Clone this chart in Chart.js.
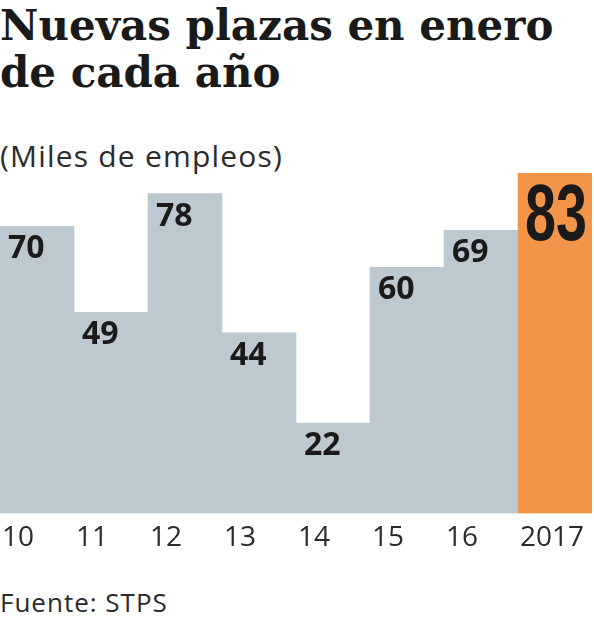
<!DOCTYPE html>
<html>
<head>
<meta charset="utf-8">
<script src="https://cdn.jsdelivr.net/npm/chart.js@4"></script>
<style>
  html, body { margin: 0; padding: 0; background: #fff; }
  body { width: 594px; height: 620px; position: relative; overflow: hidden; }
  #title {
    position: absolute; left: 0; top: 2px;
    font-family: "DejaVu Serif", serif;
    font-weight: bold; font-size: 42px; line-height: 47px; color: #1a1a1a;
    white-space: nowrap;
  }
  #subtitle {
    position: absolute; left: 0; top: 135px;
    font-family: "Open Sans", sans-serif; font-size: 30px; letter-spacing: 1.2px;
    color: #2b2b2b; white-space: nowrap;
  }
  #source {
    position: absolute; left: 0; top: 584px;
    font-family: "Open Sans", sans-serif; font-size: 26px; letter-spacing: 1px;
    color: #2b2b2b;
  }
  #wrap { position: absolute; left: 0; top: 160px; width: 594px; height: 403px; }
</style>
</head>
<body>
<div id="title">Nuevas plazas en enero<br>de cada año</div>
<div id="subtitle">(Miles de empleos)</div>
<div id="wrap"><canvas id="chart"></canvas></div>
<div id="source">Fuente: STPS</div>

<script>
// Data
const yearLabels = ['10', '11', '12', '13', '14', '15', '16', '2017'];
const jobs = [70, 49, 78, 44, 22, 60, 69, 83];

const grayBar = '#bdc9d0';
const orangeBar = '#f39548';

// Value labels drawn inside the top-left corner of each bar
const valueLabels = {
  id: 'valueLabels',
  afterDatasetsDraw(chart) {
    const ctx = chart.ctx;
    const meta = chart.getDatasetMeta(0);
    ctx.save();
    ctx.fillStyle = '#1a1a1a';
    ctx.textAlign = 'left';
    ctx.textBaseline = 'alphabetic';
    meta.data.forEach((bar, i) => {
      const left = bar.x - bar.width / 2;
      const text = String(jobs[i]);
      if (i === jobs.length - 1) {
        // big condensed number for the highlighted year
        ctx.font = 'bold 80px "Liberation Sans", sans-serif';
        const w = ctx.measureText(text).width;
        ctx.save();
        ctx.translate(left + 7, bar.y + 67);
        ctx.scale(62 / w, 1);
        ctx.fillText(text, 0, 0);
        ctx.restore();
      } else {
        ctx.font = 'bold 32px "Open Sans", sans-serif';
        ctx.fillText(text, left + 8, bar.y + 32);
      }
    });
    ctx.restore();
  }
};

new Chart(document.getElementById('chart'), {
  type: 'bar',
  data: {
    labels: yearLabels,
    datasets: [{
      data: jobs,
      backgroundColor: jobs.map((v, i) => i === jobs.length - 1 ? orangeBar : grayBar),
      borderWidth: 0,
      barPercentage: 1,
      categoryPercentage: 1
    }]
  },
  options: {
    responsive: true,
    maintainAspectRatio: false,
    animation: false,
    layout: { padding: { top: 13, right: 2, left: 0, bottom: 0 } },
    plugins: {
      legend: { display: false },
      tooltip: { enabled: false }
    },
    scales: {
      x: {
        grid: { display: false, drawTicks: false },
        border: { display: false },
        ticks: {
          align: 'start',
          labelOffset: -35,
          autoSkip: false,
          maxRotation: 0,
          padding: 8,
          color: '#2b2b2b',
          font: { family: 'Open Sans', size: 28 }
        },
        // labels hang to the right of each tick; keep the bars full width
        afterFit(scale) {
          scale.paddingLeft = 0;
          scale.paddingRight = 0;
        }
      },
      y: { display: false, min: 0, max: 83 }
    }
  },
  plugins: [valueLabels]
});
</script>
</body>
</html>
